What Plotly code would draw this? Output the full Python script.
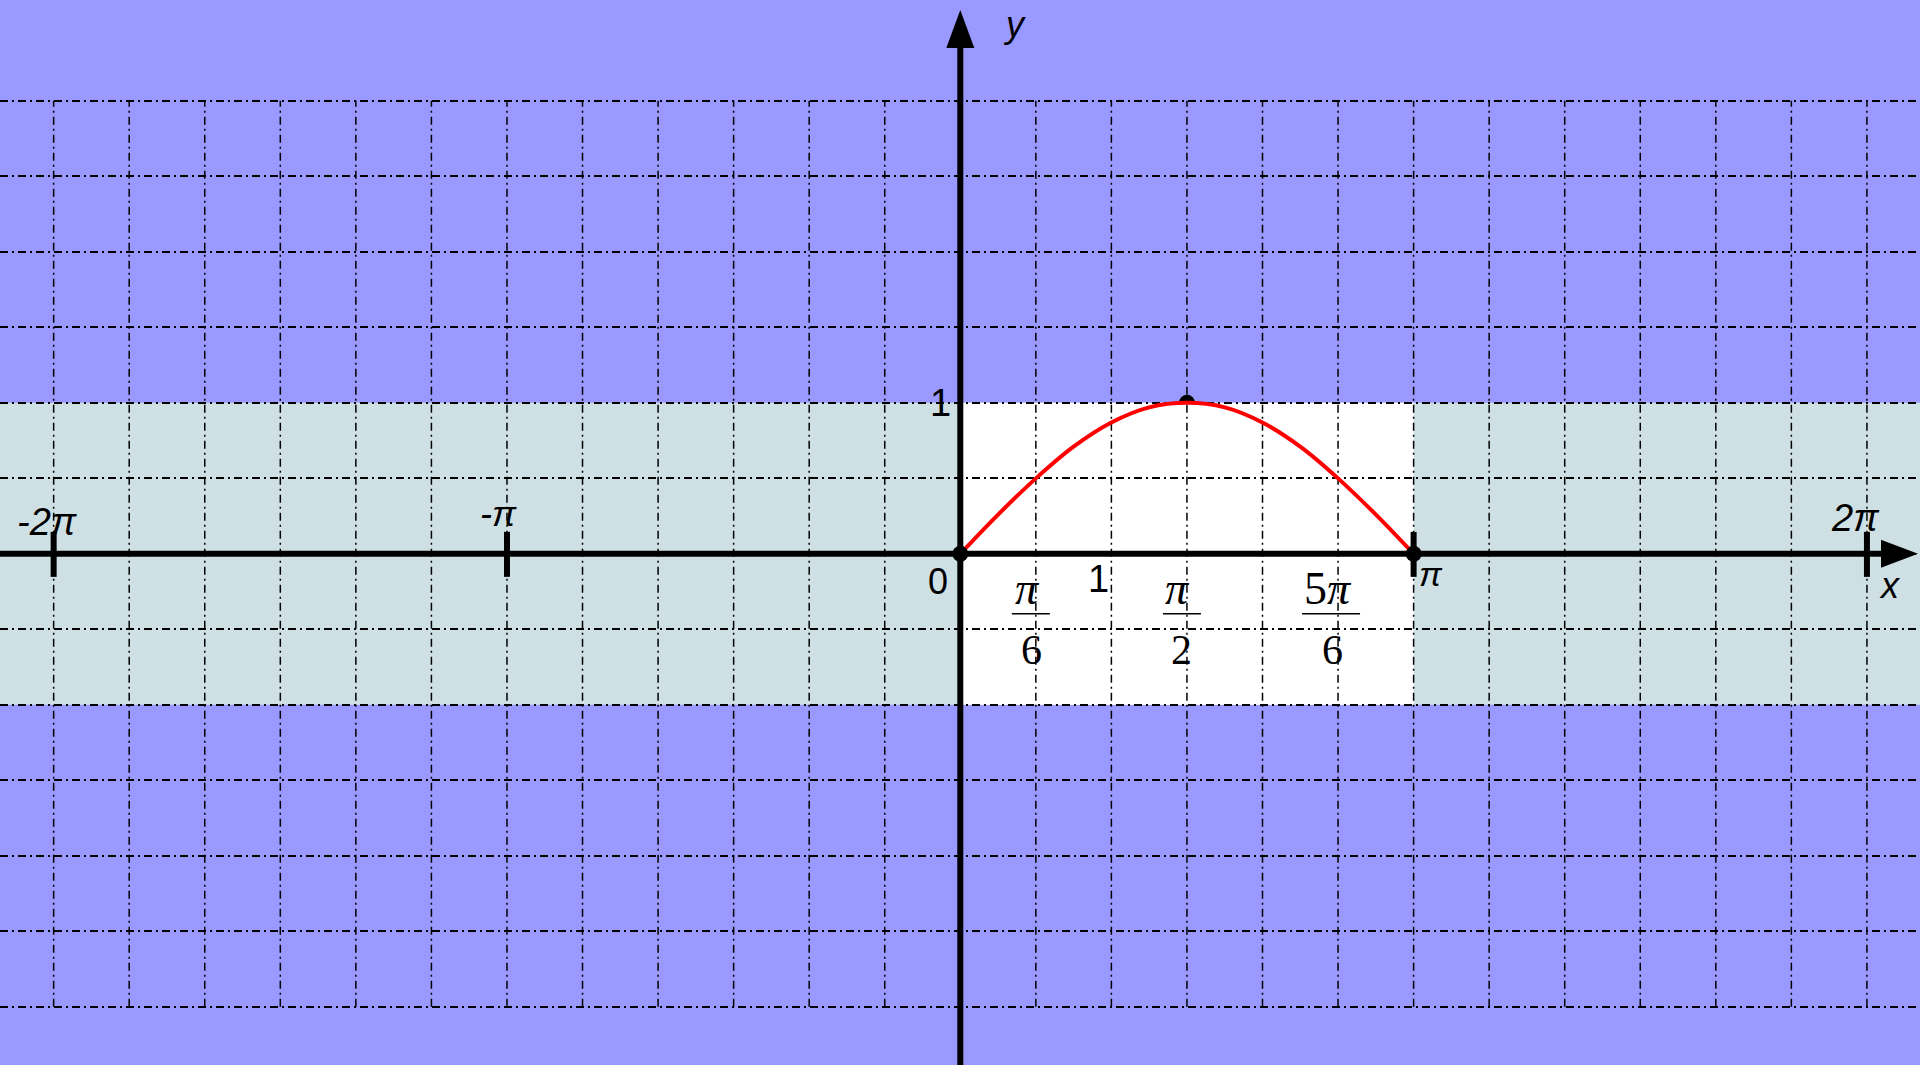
import math
import plotly.graph_objects as go

PI = math.pi

# ---- data ----
curve_x = [0.0, 0.262, 0.524, 0.785, 1.047, 1.309, 1.571, 1.833, 2.094, 2.356, 2.618, 2.880, 3.142]
curve_y = [0.0, 0.26, 0.50, 0.71, 0.87, 0.97, 1.0, 0.97, 0.87, 0.71, 0.50, 0.26, 0.0]

key_x = [0.0, 1.571, 3.142]
key_y = [0.0, 1.0, 0.0]

band_y = [-1.0, 1.0]
window_x = [0.0, 3.142]

major_tick_vals = [-2 * PI, -PI, PI, 2 * PI]
major_tick_text = ["-2π", "-π", "π", "2π"]

frac_vals = [PI / 6, PI / 2, 5 * PI / 6]
frac_num = ["<i>π</i>", "<i>π</i>", "5<i>π</i>"]
frac_den = ["6", "2", "6"]

grid_x = [k * PI / 6 for k in range(-12, 13)]
grid_y = [k * 0.5 for k in range(-6, 7)]

# ---- styling ----
W, H = 1920, 1065
X_RANGE = [-6.655, 6.651]
Y_RANGE = [-3.385, 3.668]
BLUE = "#9999FF"
BAND = "#CEE0E4"
SANS = "Liberation Sans"
SERIF = "Liberation Serif"
DASH = "8px,4px,2px,4px"
major_offsets = [(-6, 32), (-8, 40), (17, -20), (-11, 36)]
major_sizes = [38, 36, 34, 38]
frac_num_dx = [-8, -9, -10]
frac_bar = [(-24, 14), (-24, 14), (-36, 22)]
frac_den_dx = [-4, -5, -6]

fig = go.Figure()

fig.add_trace(go.Scatter(x=curve_x, y=curve_y, mode="lines",
                         line=dict(color="#FF0000", width=4, shape="spline"),
                         hoverinfo="skip"))
fig.add_trace(go.Scatter(x=[key_x[0], key_x[2]], y=[key_y[0], key_y[2]], mode="markers",
                         marker=dict(color="black", size=16), hoverinfo="skip"))

shapes = []
# band between y=-1 and y=1
shapes.append(dict(type="rect", xref="paper", x0=0, x1=1, yref="y", y0=band_y[0], y1=band_y[1],
                   fillcolor=BAND, line=dict(width=0), layer="below"))
# peak point (half hidden by the white window)
shapes.append(dict(type="circle", xref="x", yref="y", xsizemode="pixel", ysizemode="pixel",
                   xanchor=key_x[1], yanchor=key_y[1], x0=-8, x1=8, y0=-8, y1=8,
                   fillcolor="black", line=dict(width=0), layer="below"))
# white window 0..pi
shapes.append(dict(type="rect", xref="x", x0=window_x[0], x1=window_x[1], yref="y",
                   y0=band_y[0], y1=band_y[1], fillcolor="white", line=dict(width=0), layer="below"))
# vertical grid lines, limited to the grid's vertical extent
for gx in grid_x:
    shapes.append(dict(type="line", xref="x", x0=gx, x1=gx, yref="y", y0=grid_y[0], y1=grid_y[-1],
                       line=dict(color="#000000", width=1.5, dash=DASH), layer="below"))
# x axis line
shapes.append(dict(type="line", xref="paper", xsizemode="pixel", xanchor=0, x0=0, x1=W - 36,
                   yref="y", y0=0, y1=0, line=dict(color="black", width=6), layer="above"))
# y axis line
shapes.append(dict(type="line", xref="x", x0=0, x1=0, yref="paper", ysizemode="pixel", yanchor=0,
                   y0=0, y1=H - 44, line=dict(color="black", width=6), layer="above"))
# arrow heads
shapes.append(dict(type="path", xref="paper", xsizemode="pixel", xanchor=1,
                   yref="y", ysizemode="pixel", yanchor=0,
                   path="M-2,0 L-39,14 L-39,-14 Z", fillcolor="black", line=dict(width=0), layer="above"))
shapes.append(dict(type="path", xref="x", xsizemode="pixel", xanchor=0,
                   yref="paper", ysizemode="pixel", yanchor=1,
                   path="M0,-10 L-14,-48 L14,-48 Z", fillcolor="black", line=dict(width=0), layer="above"))
# major ticks
for v in major_tick_vals:
    shapes.append(dict(type="line", xref="x", x0=v, x1=v, yref="y", ysizemode="pixel", yanchor=0,
                       y0=-23, y1=22, line=dict(color="black", width=6), layer="above"))
# fraction bars
for v, (a, b) in zip(frac_vals, frac_bar):
    shapes.append(dict(type="line", xref="x", xsizemode="pixel", xanchor=v, x0=a, x1=b,
                       yref="y", ysizemode="pixel", yanchor=0, y0=-60, y1=-60,
                       line=dict(color="black", width=1.5), layer="above"))

def label(x, y, text, dx, dy, family, size, xref="x", yref="y"):
    return dict(x=x, y=y, xref=xref, yref=yref, text=text, showarrow=False,
                xanchor="center", yanchor="middle", xshift=dx, yshift=dy,
                font=dict(family=family, size=size, color="black"))

ann = []
for v, t, (dx, dy), s in zip(major_tick_vals, major_tick_text, major_offsets, major_sizes):
    ann.append(label(v, 0, "<i>" + t + "</i>", dx, dy, SANS, s))
ann.append(label(0, 0, "0", -22, -28, SANS, 36))
ann.append(label(1, 0, "1", -6, -25, SANS, 38))
ann.append(label(0, 1, "1", -20, 0, SANS, 38))
ann.append(label(1, 0, "<i>x</i>", -30, -32, SANS, 36, xref="paper"))
ann.append(label(0, 1, "<i>y</i>", 54, -24, SANS, 36, yref="paper"))
for v, n, d, ndx, ddx in zip(frac_vals, frac_num, frac_den, frac_num_dx, frac_den_dx):
    ann.append(label(v, 0, n, ndx, -35, SERIF, 46))
    ann.append(label(v, 0, d, ddx, -96, SERIF, 42))

common = dict(tickmode="array", showticklabels=False, ticks="", zeroline=False,
              showline=False, fixedrange=True)
fig.update_layout(
    width=W, height=H, margin=dict(l=0, r=0, t=0, b=0),
    paper_bgcolor=BLUE, plot_bgcolor=BLUE, showlegend=False,
    xaxis=dict(range=X_RANGE, tickvals=grid_x, showgrid=False, **common),
    yaxis=dict(range=Y_RANGE, tickvals=grid_y, showgrid=True, gridcolor="#000000",
               gridwidth=1.5, griddash=DASH, **common),
    shapes=shapes, annotations=ann,
)

fig.write_html("out.html", post_script="document.body.style.margin='0px';", config={"displayModeBar": False})
